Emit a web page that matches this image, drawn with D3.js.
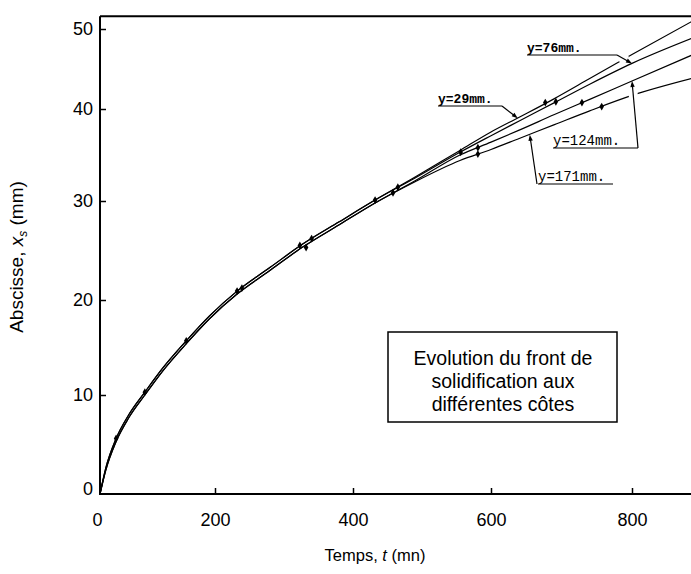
<!DOCTYPE html>
<html>
<head>
<meta charset="utf-8">
<script src="https://cdn.jsdelivr.net/npm/d3@7"></script>
<style>
  body { margin: 0; background: #fff; }
  svg { display: block; }
</style>
</head>
<body>
<svg id="chart" width="691" height="574"></svg>
<script>
// Solidification front position x_s (mm) versus time t (mn), at four heights y.
const times    = [0, 10, 28, 50, 78, 110, 150, 190, 232, 280, 326, 380, 432, 490, 555, 600, 640, 690, 740, 800, 884];
const front29  = [0, 2.6, 5.6, 8.0, 10.3, 12.9, 15.7, 18.3, 20.9, 23.3, 25.6, 27.9, 30.1, 32.6, 35.5, 37.5, 39.1, 41.3, 43.8, 46.8, 50.9];
const front76  = [0, 2.6, 5.6, 8.0, 10.3, 12.9, 15.7, 18.3, 20.9, 23.3, 25.6, 27.9, 30.1, 32.5, 35.3, 37.1, 38.7, 40.8, 43.1, 45.7, 48.8];
const front124 = [0, 2.4, 5.3, 7.7, 10.0, 12.6, 15.4, 18.0, 20.6, 23.0, 25.3, 27.6, 29.8, 32.2, 35.0, 36.4, 37.7, 39.4, 41.2, 43.5, 46.7];
const front171 = [0, 2.4, 5.3, 7.7, 10.0, 12.6, 15.4, 18.0, 20.6, 23.0, 25.3, 27.6, 29.8, 32.1, 34.4, 35.6, 36.8, 38.3, 39.8, 41.7, 43.8];

// Measured points [t, x_s]
const points29  = [[28, 5.6], [150, 15.7], [232, 20.9], [323, 25.5], [432, 30.1], [677, 40.8]];
const points76  = [[78, 10.3], [239, 21.2], [340, 26.2], [465, 31.5], [556, 35.3], [692, 40.9]];
const points124 = [[332, 25.3], [581, 35.8], [729, 40.8]];
const points171 = [[458, 30.9], [581, 35.1], [757, 40.3]];

// Where each label's arrow touches its curve [t, x_s]
const labelTexts = ["y=29mm.", "y=76mm.", "y=124mm.", "y=171mm."];
const arrowTips  = [[638, 39.0], [800, 45.7], [800, 43.5], [655, 37.2]];

const xTicks = [0, 200, 400, 600, 800];
const yTicks = [0, 10, 20, 30, 40, 50];
const tMax = 884;     // right edge of the plot
const yMax = 51.6;    // top frame line

const svg = d3.select("#chart");

// The drawn axes are not evenly graduated, so the scales are piecewise linear.
const x = d3.scaleLinear().domain([0, 200, 400, 600, 800]).range([100, 215, 353, 491, 632]);
const y = d3.scaleLinear().domain([0, 10, 20, 30, 40, 50]).range([494, 395, 300, 201, 109, 29]);

const sansFont = "'Liberation Sans', Arial, sans-serif";
const monoFont = "'Liberation Mono', 'Courier New', monospace";

// Curves
const line = d3.line()
  .x((d, i) => x(times[i]))
  .y(d => y(d))
  .curve(d3.curveMonotoneX);

const series = [front29, front76, front124, front171];
const curves = svg.append("g").attr("fill", "none").attr("stroke", "#000").attr("stroke-width", 1.2);
series.forEach(s => curves.append("path").attr("d", line(s)));

// Markers
const marker = d3.symbol().type(d3.symbolDiamond).size(18);
const allPoints = [points29, points76, points124, points171];
const mk = svg.append("g").attr("fill", "#000");
allPoints.forEach(pts => {
  pts.forEach(p => {
    mk.append("path").attr("d", marker()).attr("transform", `translate(${x(p[0])},${y(p[1])})`);
  });
});

// Labels with underlines and leader lines (pixel anchors for the texts)
const labelLayout = [
  { tx: 438, ty: 103, size: 13, weight: "bold",   under: [438, 106, 502, 106], elbow: [502, 106] },
  { tx: 527, ty: 52,  size: 13, weight: "bold",   under: [527, 55, 617, 55],   elbow: [617, 55] },
  { tx: 553, ty: 145, size: 14, weight: "normal", under: [553, 148, 638, 148], elbow: [638, 148] },
  { tx: 538, ty: 181, size: 14, weight: "normal", under: [538, 184, 613, 184], elbow: [537, 184] }
];

const lab = svg.append("g");
labelLayout.forEach((L, i) => {
  const tip = [x(arrowTips[i][0]), y(arrowTips[i][1])];
  const [ex, ey] = L.elbow;
  const dx = tip[0] - ex, dy = tip[1] - ey, len = Math.hypot(dx, dy);
  const ux = dx / len, uy = dy / len;
  // white break in the curves crossed by the leader (kept clear of the tip)
  lab.append("line")
    .attr("x1", ex + ux * 2).attr("y1", ey + uy * 2)
    .attr("x2", tip[0] - ux * 6).attr("y2", tip[1] - uy * 6)
    .attr("stroke", "#fff").attr("stroke-width", 9);
  lab.append("line")
    .attr("x1", L.under[0]).attr("y1", L.under[1]).attr("x2", L.under[2]).attr("y2", L.under[3])
    .attr("stroke", "#000").attr("stroke-width", 1.2);
  lab.append("line")
    .attr("x1", ex).attr("y1", ey).attr("x2", tip[0] - ux * 4).attr("y2", tip[1] - uy * 4)
    .attr("stroke", "#000").attr("stroke-width", 1.2);
  // arrow head
  const hl = 6, hw = 2.2;
  const bx = tip[0] - ux * hl, by = tip[1] - uy * hl;
  lab.append("path")
    .attr("d", `M${tip[0]},${tip[1]}L${bx - uy * hw},${by + ux * hw}L${bx + uy * hw},${by - ux * hw}Z`)
    .attr("fill", "#000");
  lab.append("text")
    .attr("x", L.tx).attr("y", L.ty)
    .attr("font-family", monoFont).attr("font-size", L.size).attr("font-weight", L.weight)
    .text(labelTexts[i]);
});

// Frame: top line, y axis, x axis
const frame = svg.append("g").attr("stroke", "#000").attr("stroke-width", 2).attr("fill", "none");
frame.append("path").attr("d", `M${x(0)},${y(yMax)}H${x(tMax)}`);
frame.append("path").attr("d", `M${x(0)},${y(yMax)}V${y(0)}H${x(tMax)}`);

// Axes (inward ticks)
const xAxis = svg.append("g").attr("transform", `translate(0,${y(0)})`)
  .call(d3.axisBottom(x).tickValues(xTicks).tickSizeInner(-6).tickSizeOuter(0).tickPadding(19).tickFormat(d3.format("d")));
const yAxis = svg.append("g").attr("transform", `translate(${x(0)},0)`)
  .call(d3.axisLeft(y).tickValues(yTicks).tickSizeInner(-6).tickSizeOuter(0).tickPadding(7).tickFormat(d3.format("d")));
[xAxis, yAxis].forEach(a => {
  a.select(".domain").remove();
  a.selectAll(".tick line").attr("stroke", "#000").attr("stroke-width", 1.5);
  a.selectAll(".tick text").attr("font-family", sansFont).attr("font-size", 18).attr("fill", "#000");
});
xAxis.selectAll(".tick").filter(d => d === 0).select("line").remove();
yAxis.selectAll(".tick").filter(d => d === 0).select("line").remove();
yAxis.selectAll(".tick").filter(d => d === 0).select("text").attr("dy", "0.0em");
xAxis.selectAll(".tick").filter(d => d === 0).select("text").attr("dx", "-3");

// Axis titles
const xTitle = svg.append("text")
  .attr("x", 375).attr("y", 561).attr("text-anchor", "middle")
  .attr("font-family", sansFont).attr("font-size", 16.5);
xTitle.append("tspan").text("Temps, ");
xTitle.append("tspan").attr("font-style", "italic").text("t");
xTitle.append("tspan").text(" (mn)");

const yTitle = svg.append("text")
  .attr("transform", "translate(23,257) rotate(-90)").attr("text-anchor", "middle")
  .attr("font-family", sansFont).attr("font-size", 19);
yTitle.append("tspan").text("Abscisse, ");
yTitle.append("tspan").attr("font-style", "italic").text("x");
yTitle.append("tspan").attr("font-style", "italic").attr("font-size", 12).attr("dy", 4).text("s");
yTitle.append("tspan").attr("dy", -4).text(" (mm)");

// Annotation box
const box = svg.append("g");
box.append("rect").attr("x", 388).attr("y", 332).attr("width", 229).attr("height", 90)
  .attr("fill", "#fff").attr("stroke", "#000").attr("stroke-width", 1.5);
const boxLines = ["Evolution du front de", "solidification aux", "différentes côtes"];
box.selectAll("text.note").data(boxLines).enter().append("text")
  .attr("class", "note")
  .attr("x", 503).attr("y", (d, i) => 365 + i * 23)
  .attr("text-anchor", "middle")
  .attr("font-family", sansFont).attr("font-size", 19.5)
  .text(d => d);
</script>
</body>
</html>
